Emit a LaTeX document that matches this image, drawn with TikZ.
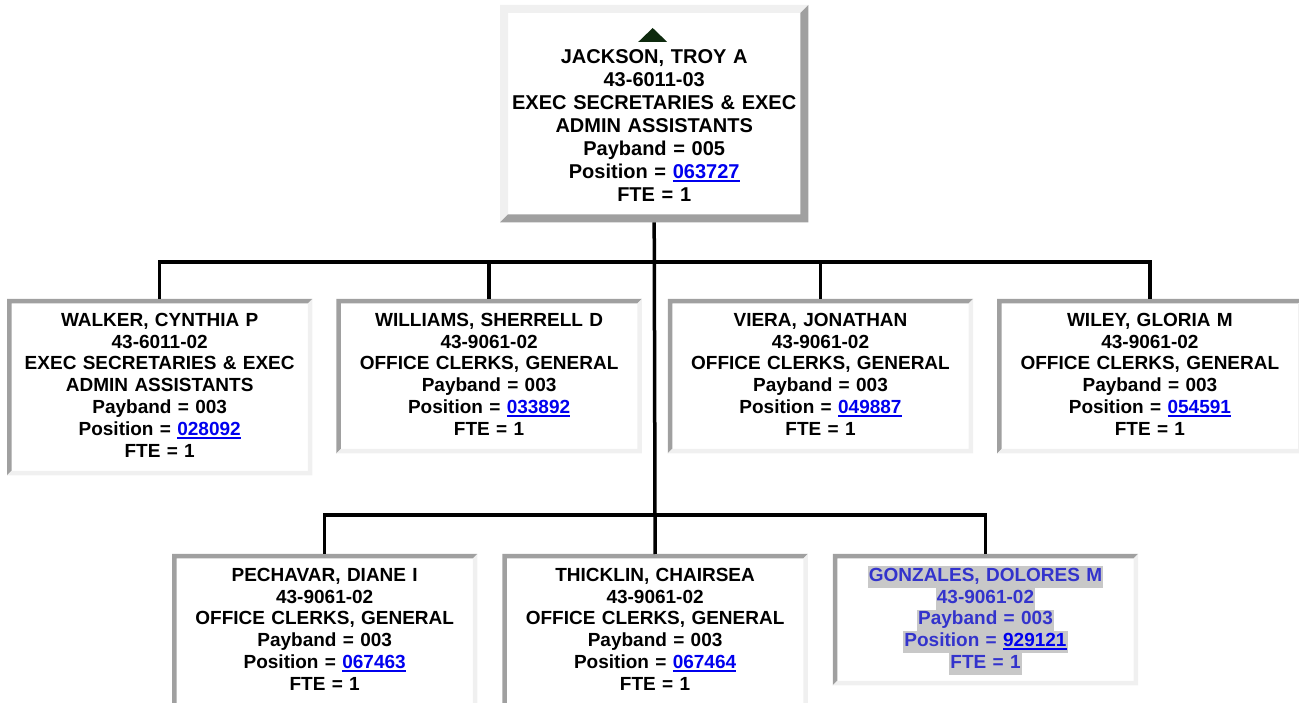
\documentclass[tikz,border=0pt]{standalone}
\usepackage{fontspec}
\setmainfont{Liberation Sans}
\usepackage{xcolor}
\usetikzlibrary{positioning}
\definecolor{rimdark}{RGB}{160,160,160}
\definecolor{rimlight}{RGB}{240,240,240}
\definecolor{linkblue}{RGB}{0,0,238}
\definecolor{vacblue}{RGB}{51,51,204}
\definecolor{vacgray}{RGB}{200,200,200}
\definecolor{upgreen}{RGB}{14,42,14}
% underlined position number
\newcommand{\poslink}[1]{{\color{linkblue}\setbox0\hbox{#1}\rlap{\rule[-3.5pt]{\wd0}{2.2pt}}\box0}}
% highlighted line of the vacant position
\newcommand{\vacline}[1]{{\fboxsep=0pt\colorbox{vacgray}{\rule[-6.5pt]{0pt}{21.8pt}\kern1pt#1\kern1pt}}}

\begin{document}
\begin{tikzpicture}[x=1pt, y=1pt,
  card/.style={text width=300pt, inner xsep=2.5pt, inner ysep=0pt, align=center, text height=27pt,
    font=\bfseries\fontsize{19}{21.85}\selectfont},
  conn/.style={line width=3.5pt, black}]
\useasboundingbox (0,0) rectangle (1299,702);
\node[card, text width=300pt, inner xsep=4pt, text height=58.5pt, text depth=158.5pt,
  font=\bfseries\fontsize{20}{23}\selectfont, anchor=north west] (jackson) at (500,697)
  {JACKSON, TROY A\\43-6011-03\\EXEC SECRETARIES \& EXEC\\ADMIN ASSISTANTS\\Payband = 005\\Position = \poslink{063727}\\FTE = 1};
% first row
\node[card, text depth=149pt, anchor=north west] (walker) at (7,403)
  {WALKER, CYNTHIA P\\43-6011-02\\EXEC SECRETARIES \& EXEC\\ADMIN ASSISTANTS\\Payband = 003\\Position = \poslink{028092}\\FTE = 1};
\node[card, text depth=127pt, right=24pt of walker.north east, anchor=north west] (williams)
  {WILLIAMS, SHERRELL D\\43-9061-02\\OFFICE CLERKS, GENERAL\\Payband = 003\\Position = \poslink{033892}\\FTE = 1};
\node[card, text depth=127pt, right=26pt of williams.north east, anchor=north west] (viera)
  {VIERA, JONATHAN\\43-9061-02\\OFFICE CLERKS, GENERAL\\Payband = 003\\Position = \poslink{049887}\\FTE = 1};
\node[card, text depth=127pt, right=24pt of viera.north east, anchor=north west] (wiley)
  {WILEY, GLORIA M\\43-9061-02\\OFFICE CLERKS, GENERAL\\Payband = 003\\Position = \poslink{054591}\\FTE = 1};
% second row
\node[card, text depth=127pt, anchor=north west] (pechavar) at (172,148)
  {PECHAVAR, DIANE I\\43-9061-02\\OFFICE CLERKS, GENERAL\\Payband = 003\\Position = \poslink{067463}\\FTE = 1};
\node[card, text depth=127pt, right=25pt of pechavar.north east, anchor=north west] (thicklin)
  {THICKLIN, CHAIRSEA\\43-9061-02\\OFFICE CLERKS, GENERAL\\Payband = 003\\Position = \poslink{067464}\\FTE = 1};
\node[card, text depth=104pt, text=vacblue, right=25pt of thicklin.north east, anchor=north west] (gonzales)
  {\vacline{GONZALES, DOLORES M}\\\vacline{43-9061-02}\\\vacline{Payband = 003}\\\vacline{Position = \poslink{929121}}\\\vacline{FTE = 1}};
% sunken rims
\foreach \n in {walker,williams,viera,wiley,pechavar,thicklin,gonzales} {
  \fill[rimdark] (\n.south west) -- (\n.north west) -- (\n.north east) -- ([shift={(-4.5,-4.5)}]\n.north east)
    -- ([shift={(4.5,-4.5)}]\n.north west) -- ([shift={(4.5,4.5)}]\n.south west) -- cycle;
  \fill[rimlight] (\n.south west) -- (\n.south east) -- (\n.north east) -- ([shift={(-4.5,-4.5)}]\n.north east)
    -- ([shift={(-4.5,4.5)}]\n.south east) -- ([shift={(4.5,4.5)}]\n.south west) -- cycle;
}
% raised rim
\fill[rimlight] (jackson.south west) -- (jackson.north west) -- (jackson.north east) -- ([shift={(-8,-8)}]jackson.north east)
  -- ([shift={(8,-8)}]jackson.north west) -- ([shift={(8,8)}]jackson.south west) -- cycle;
\fill[rimdark] (jackson.south west) -- (jackson.south east) -- (jackson.north east) -- ([shift={(-8,-8)}]jackson.north east)
  -- ([shift={(-8,8)}]jackson.south east) -- ([shift={(8,8)}]jackson.south west) -- cycle;
\fill[upgreen] ([shift={(-16,-37)}]jackson.north) -- ([shift={(13,-37)}]jackson.north) -- ([shift={(-1.5,-23)}]jackson.north) -- cycle;
% reporting lines
\coordinate (bar1) at (0,440);
\coordinate (bar2) at (0,187);
\draw[conn] (jackson.south) -- (thicklin.north);
\draw[conn] (walker.north) |- (bar1-|wiley.north) -- (wiley.north);
\foreach \n in {williams,viera}
  \draw[conn] (\n.north|-bar1) -- (\n.north);
\draw[conn] (pechavar.north) |- (bar2-|gonzales.north) -- (gonzales.north);
\end{tikzpicture}
\end{document}
